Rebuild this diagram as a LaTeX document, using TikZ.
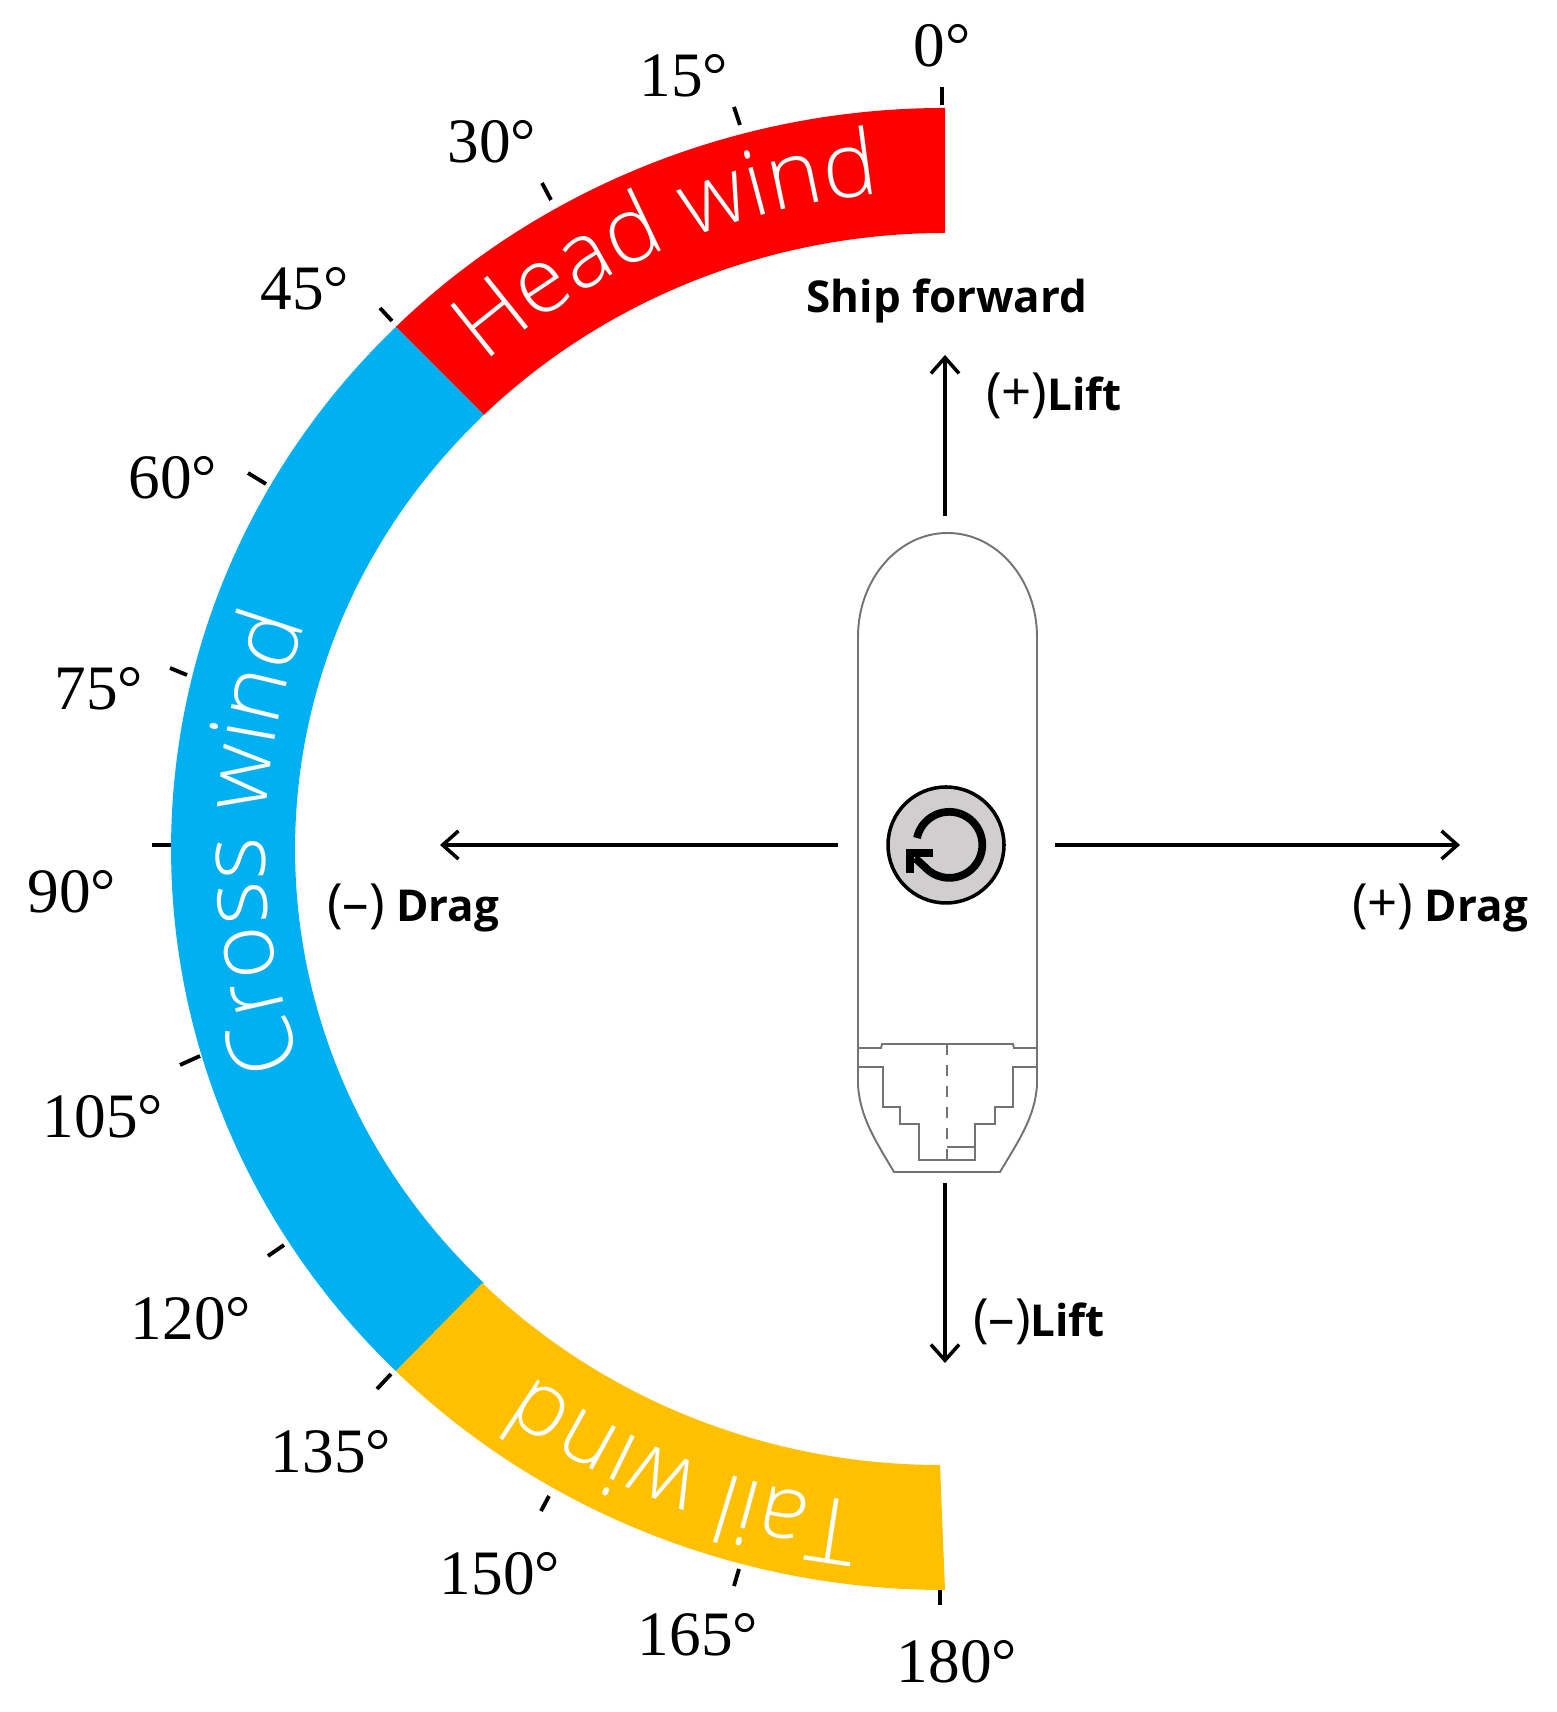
\documentclass[tikz,border=0pt]{standalone}
\usepackage{fontspec}
\usetikzlibrary{arrows.meta,calc,decorations.text}
\setmainfont{Liberation Serif}
\newfontfamily\labelfont{Open Sans}
\newfontfamily\windfont{Open Sans Light}
\definecolor{headcol}{HTML}{FF0000}
\definecolor{crosscol}{HTML}{00B0F0}
\definecolor{tailcol}{HTML}{FFC000}
\definecolor{pivotcol}{HTML}{D0CECE}
\newcommand{\signpart}[1]{{\fontsize{15}{15}\selectfont #1}}
\tikzset{
  deglabel/.style={font=\fontsize{18}{18}\selectfont},
  forcelabel/.style={font=\labelfont\fontsize{12.5}{13}\selectfont},
  tickmark/.style={draw,line width=1.1pt},
  force/.style={draw,line width=1pt,-{Straight Barb[length=4.5pt,width=8pt,line width=1pt]}},
  hull/.style={draw,black!55,line width=0.55pt},
  windtext/.style={decorate,decoration={text along path,text align={center},text={|\windfont\fontsize{26}{26}\selectfont\color{white}|#1}}}
}
\begin{document}
\begin{tikzpicture}
\useasboundingbox (0,0) rectangle (15.57,17.12);
\coordinate (o) at (9.45,8.63);
% wind sectors
\fill[headcol] ($(o)+(135.2:7.74 and 7.41)$) arc[start angle=135.2,end angle=90,x radius=7.74,y radius=7.41] -- ($(o)+(90:6.5 and 6.16)$) arc[start angle=90,end angle=135.2,x radius=6.5,y radius=6.16] -- cycle;
\fill[crosscol] ($(o)+(135.2:7.74 and 7.41)$) arc[start angle=135.2,end angle=224.8,x radius=7.74,y radius=7.41] -- ($(o)+(224.8:6.5 and 6.16)$) arc[start angle=224.8,end angle=135.2,x radius=6.5,y radius=6.16] -- cycle;
\fill[tailcol] ($(o)+(224.8:7.74 and 7.41)$) arc[start angle=224.8,end angle=270,x radius=7.74,y radius=7.41] -- (9.40,2.47) arc[start angle=270,end angle=224.8,x radius=6.45,y radius=6.16] -- cycle;
\path[windtext={Head wind}] ($(o)+(136:6.82 and 6.58)$) arc[start angle=136,end angle=92,x radius=6.82,y radius=6.58];
\path[windtext={Cross wind}] ($(o)+(202.5:6.8 and 6.58)$) arc[start angle=202.5,end angle=156.5,x radius=6.8,y radius=6.58];
\path[windtext={Tail wind}] ($(o)+(268:6.9 and 6.58)$) arc[start angle=268,end angle=228,x radius=6.9,y radius=6.58];

% angle labels
\node[deglabel] (a0) at (9.42,16.66) {0°};
\node[deglabel] (a15) at (6.84,16.36) {15°};
\node[deglabel] (a30) at (4.92,15.70) {30°};
\node[deglabel] (a45) at (3.05,14.23) {45°};
\node[deglabel] (a60) at (1.73,12.34) {60°};
\node[deglabel] (a75) at (0.99,10.23) {75°};
\node[deglabel] (a90) at (0.72,8.20) {90°};
\node[deglabel] (a105) at (1.03,5.95) {105°};
\node[deglabel] (a120) at (1.91,3.93) {120°};
\node[deglabel] (a135) at (3.31,2.60) {135°};
\node[deglabel] (a150) at (5.00,1.38) {150°};
\node[deglabel] (a165) at (6.98,0.77) {165°};
\node[deglabel] (a180) at (9.57,0.50) {180°};

% tick marks
\coordinate (p0) at (9.42,16.25); \coordinate (q0) at (9.42,16.07);
\coordinate (p15) at (7.34,16.05); \coordinate (q15) at (7.40,15.87);
\coordinate (p30) at (5.42,15.29); \coordinate (q30) at (5.51,15.12);
\coordinate (p45) at (3.80,14.04); \coordinate (q45) at (3.92,13.91);
\coordinate (p60) at (2.48,12.39); \coordinate (q60) at (2.66,12.28);
\coordinate (p75) at (1.70,10.44); \coordinate (q75) at (1.87,10.37);
\coordinate (p90) at (1.52,8.67); \coordinate (q90) at (1.71,8.67);
\coordinate (p105) at (1.80,6.47); \coordinate (q105) at (2.00,6.56);
\coordinate (p120) at (2.68,4.56); \coordinate (q120) at (2.84,4.67);
\coordinate (p135) at (3.77,3.23); \coordinate (q135) at (3.91,3.38);
\coordinate (p150) at (5.41,2.01); \coordinate (q150) at (5.49,2.16);
\coordinate (p165) at (7.34,1.26); \coordinate (q165) at (7.39,1.43);
\coordinate (p180) at (9.40,1.07); \coordinate (q180) at (9.40,1.22);
\path[tickmark] (p0) -- (q0);
\path[tickmark] (p15) -- (q15);
\path[tickmark] (p30) -- (q30);
\path[tickmark] (p45) -- (q45);
\path[tickmark] (p60) -- (q60);
\path[tickmark] (p75) -- (q75);
\path[tickmark] (p90) -- (q90);
\path[tickmark] (p105) -- (q105);
\path[tickmark] (p120) -- (q120);
\path[tickmark] (p135) -- (q135);
\path[tickmark] (p150) -- (q150);
\path[tickmark] (p165) -- (q165);
\path[tickmark] (p180) -- (q180);

% ship
\path[hull] (8.58,6.27) -- (8.58,10.75) arc[start angle=180,end angle=0,x radius=0.895,y radius=1.04] -- (10.37,6.27) .. controls (10.35,5.95) and (10.19,5.72) .. (10.00,5.40) -- (8.94,5.40) .. controls (8.75,5.72) and (8.60,5.95) .. (8.58,6.27);
\path[hull] (8.58,6.64) -- (8.81,6.64) -- (8.82,6.68) -- (10.13,6.68) -- (10.14,6.64) -- (10.37,6.64);
\path[hull] (8.58,6.45) -- (8.83,6.45) -- (8.83,6.05) -- (9.00,6.05) -- (9.00,5.88) -- (9.19,5.88) -- (9.19,5.52) -- (9.75,5.52) -- (9.75,5.88) -- (9.95,5.88) -- (9.95,6.05) -- (10.13,6.05) -- (10.13,6.45) -- (10.37,6.45);
\path[hull] (9.47,5.65) -- (9.75,5.65);
\path[hull,dashed] (9.47,6.68) -- (9.47,5.40);
\node[draw,circle,fill=pivotcol,line width=1pt,minimum size=1.16cm,inner sep=0pt] (pivot) at (9.46,8.67) {};
\path[draw,line width=2.2pt] (9.17,8.74) arc[start angle=168,end angle=-138,radius=0.33] -- (9.15,8.54);
\path[draw,line width=2.2pt,line join=miter] (9.33,8.59) -- (9.10,8.59) -- (9.10,8.39);

% force arrows
\coordinate (up1) at (9.45,11.96);
\coordinate (up2) at (9.45,13.57);
\coordinate (down1) at (9.45,5.29);
\coordinate (down2) at (9.45,3.49);
\coordinate (left1) at (8.38,8.67);
\coordinate (left2) at (4.40,8.67);
\coordinate (right1) at (10.55,8.67);
\coordinate (right2) at (14.60,8.67);
\path[force] (up1) -- (up2);
\path[force] (down1) -- (down2);
\path[force] (left1) -- (left2);
\path[force] (right1) -- (right2);
\node[forcelabel] (forward) at (9.47,14.11) {\bfseries Ship forward};
\node[forcelabel] (poslift) at (10.54,13.16) {\signpart{(+)}\textbf{Lift}};
\node[forcelabel] (neglift) at (10.39,3.90) {\signpart{(–)}\textbf{Lift}};
\node[forcelabel] (negdrag) at (4.13,8.04) {\signpart{(–)} \textbf{Drag}};
\node[forcelabel] (posdrag) at (14.40,8.04) {\signpart{(+)} \textbf{Drag}};
\end{tikzpicture}
\end{document}
